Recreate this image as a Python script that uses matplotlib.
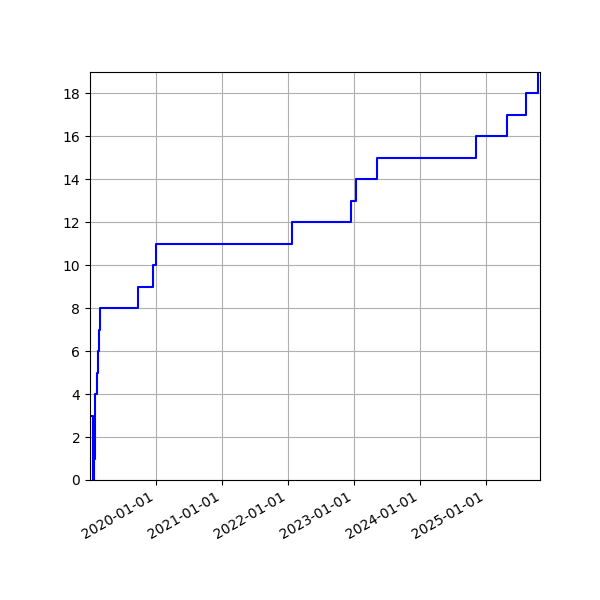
import matplotlib
matplotlib.use("Agg")
import matplotlib.pyplot as plt
import matplotlib.dates as mdates
import pandas as pd

# Event dates and cumulative counts
dates = [
    "2019-01-03", "2019-01-17", "2019-01-23", "2019-01-29", "2019-01-30",
    "2019-01-31", "2019-02-11", "2019-02-16", "2019-02-22", "2019-03-02",
    "2019-09-26", "2019-12-19", "2020-01-03", "2022-01-27", "2022-12-19",
    "2023-01-12", "2023-05-08", "2024-11-09", "2025-04-25", "2025-08-10",
    "2025-10-14", "2025-10-27",
]
counts = [3, 0, 1, 2, 3, 4, 5, 6, 7, 8, 9, 10, 11, 12, 13, 14, 15, 16, 17, 18, 19, 19]
yticks = [0, 2, 4, 6, 8, 10, 12, 14, 16, 18]

x = pd.to_datetime(dates)

fig, ax = plt.subplots(figsize=(6, 6), dpi=100)
ax.step(x, counts, where="post", color="blue", linewidth=1.5)
ax.set_xlim(x.min(), x.max())
ax.set_ylim(min(counts), max(counts))
ax.set_yticks(yticks)
ax.xaxis.set_major_locator(mdates.YearLocator())
ax.xaxis.set_major_formatter(mdates.DateFormatter("%Y-%m-%d"))
ax.grid(True)
fig.autofmt_xdate()
fig.subplots_adjust(left=0.15, right=0.9, top=0.88, bottom=0.2)
fig.savefig("out.png", dpi=100)
